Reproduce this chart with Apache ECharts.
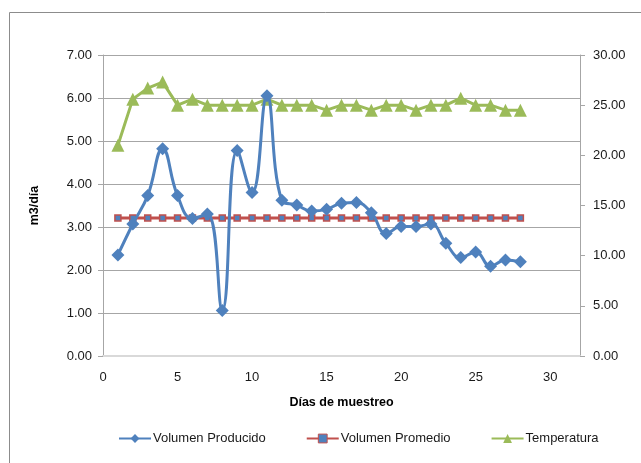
<!DOCTYPE html>
<html>
<head>
<meta charset="utf-8">
<script src="https://cdn.jsdelivr.net/npm/echarts@6/dist/echarts.min.js"></script>
<style>
  html, body { margin: 0; padding: 0; background: #fff; }
  #chart { width: 641px; height: 463px; }
</style>
</head>
<body>
<div id="chart"></div>
<script>
// Sampling days (x)
const days = [1, 2, 3, 4, 5, 6, 7, 8, 9, 10, 11, 12, 13, 14, 15, 16, 17, 18, 19, 20, 21, 22, 23, 24, 25, 26, 27, 28];

// Daily produced volume, m3/día
const volumenProducido = [2.35, 3.07, 3.73, 4.82, 3.73, 3.20, 3.30, 1.06, 4.78, 3.80, 6.05, 3.62, 3.51, 3.37, 3.41, 3.55, 3.57, 3.33, 2.85, 3.01, 3.01, 3.07, 2.62, 2.29, 2.42, 2.09, 2.23, 2.19];

// Average produced volume, m3/día
const volumenPromedio = [3.21, 3.21, 3.21, 3.21, 3.21, 3.21, 3.21, 3.21, 3.21, 3.21, 3.21, 3.21, 3.21, 3.21, 3.21, 3.21, 3.21, 3.21, 3.21, 3.21, 3.21, 3.21, 3.21, 3.21, 3.21, 3.21, 3.21, 3.21];

// Temperature (secondary axis)
const temperatura = [21.0, 25.6, 26.7, 27.3, 25.0, 25.6, 25.0, 25.0, 25.0, 25.0, 25.6, 25.0, 25.0, 25.0, 24.5, 25.0, 25.0, 24.5, 25.0, 25.0, 24.5, 25.0, 25.0, 25.7, 25.0, 25.0, 24.5, 24.5];

const seriesNames = ['Volumen Producido', 'Volumen Promedio', 'Temperatura'];

const pairs = (vals) => days.map((d, i) => [d, vals[i]]);

const FONT = 'Liberation Sans';
const BLUE = '#4F81BD', RED = '#C0504D', GREEN = '#9BBB59';
const GRID_GRAY = '#a6a6a6';
const TEXT = '#1a1a1a';

const chart = echarts.init(document.getElementById('chart'), null, { renderer: 'canvas' });

chart.setOption({
  backgroundColor: '#fff',
  animation: false,
  textStyle: { fontFamily: FONT },
  graphic: [{
    type: 'rect',
    shape: { x: 9.5, y: 12.5, width: 700, height: 500 },
    style: { fill: 'none', stroke: '#8c8c8c', lineWidth: 1 },
    silent: true
  }],
  grid: { left: 103, right: 61, top: 55, bottom: 107, containLabel: false },
  legend: {
    top: 427,
    left: 113,
    itemWidth: 32,
    itemHeight: 11,
    itemGap: 40,
    textStyle: { fontFamily: FONT, fontSize: 13, color: TEXT, padding: [0, 0, 0, -3] },
    data: [
      { name: seriesNames[0] },
      { name: seriesNames[1], itemStyle: { borderWidth: 1 } },
      { name: seriesNames[2] }
    ]
  },
  xAxis: {
    type: 'value',
    min: 0,
    max: 32,
    interval: 5,
    name: 'Días de muestreo',
    nameLocation: 'middle',
    nameGap: 40,
    nameTextStyle: { fontFamily: FONT, fontWeight: 'bold', fontSize: 12.5, color: '#000' },
    axisLine: { show: true, lineStyle: { color: '#d9d9d9', width: 2 } },
    axisTick: { show: false },
    splitLine: { show: false },
    axisLabel: { showMaxLabel: false, fontFamily: FONT, fontSize: 13, color: TEXT, margin: 15 }
  },
  yAxis: [{
    type: 'value',
    min: 0,
    max: 7,
    interval: 1,
    name: 'm3/día',
    nameLocation: 'middle',
    nameRotate: 90,
    nameGap: 62,
    nameTextStyle: { fontFamily: FONT, fontWeight: 'bold', fontSize: 12.5, color: '#000' },
    axisLine: { show: true, lineStyle: { color: GRID_GRAY, width: 1 } },
    axisTick: { show: true, length: 5, lineStyle: { color: GRID_GRAY } },
    splitLine: { show: true, lineStyle: { color: GRID_GRAY, width: 1 } },
    axisLabel: { formatter: v => v.toFixed(2), fontFamily: FONT, fontSize: 13, color: TEXT, margin: 11 }
  }, {
    type: 'value',
    position: 'right',
    min: 0,
    max: 30,
    interval: 5,
    axisLine: { show: true, lineStyle: { color: GRID_GRAY, width: 1 } },
    axisTick: { show: true, length: 5, lineStyle: { color: GRID_GRAY } },
    splitLine: { show: false },
    axisLabel: { formatter: v => v.toFixed(2), fontFamily: FONT, fontSize: 13, color: TEXT, margin: 13 }
  }],
  series: [{
    name: seriesNames[0],
    type: 'line',
    yAxisIndex: 0,
    data: pairs(volumenProducido),
    smooth: 0.45,
    symbol: 'diamond',
    symbolSize: 13,
    lineStyle: { color: BLUE, width: 3 },
    itemStyle: { color: BLUE },
    z: 3
  }, {
    name: seriesNames[1],
    type: 'line',
    yAxisIndex: 0,
    data: pairs(volumenPromedio),
    symbol: 'rect',
    symbolSize: 6,
    lineStyle: { color: RED, width: 3 },
    itemStyle: { color: BLUE, borderColor: RED, borderWidth: 1.5 },
    z: 2
  }, {
    name: seriesNames[2],
    type: 'line',
    yAxisIndex: 1,
    data: pairs(temperatura),
    symbol: 'triangle',
    symbolSize: 13,
    lineStyle: { color: GREEN, width: 3 },
    itemStyle: { color: GREEN },
    z: 2
  }]
});
</script>
</body>
</html>
